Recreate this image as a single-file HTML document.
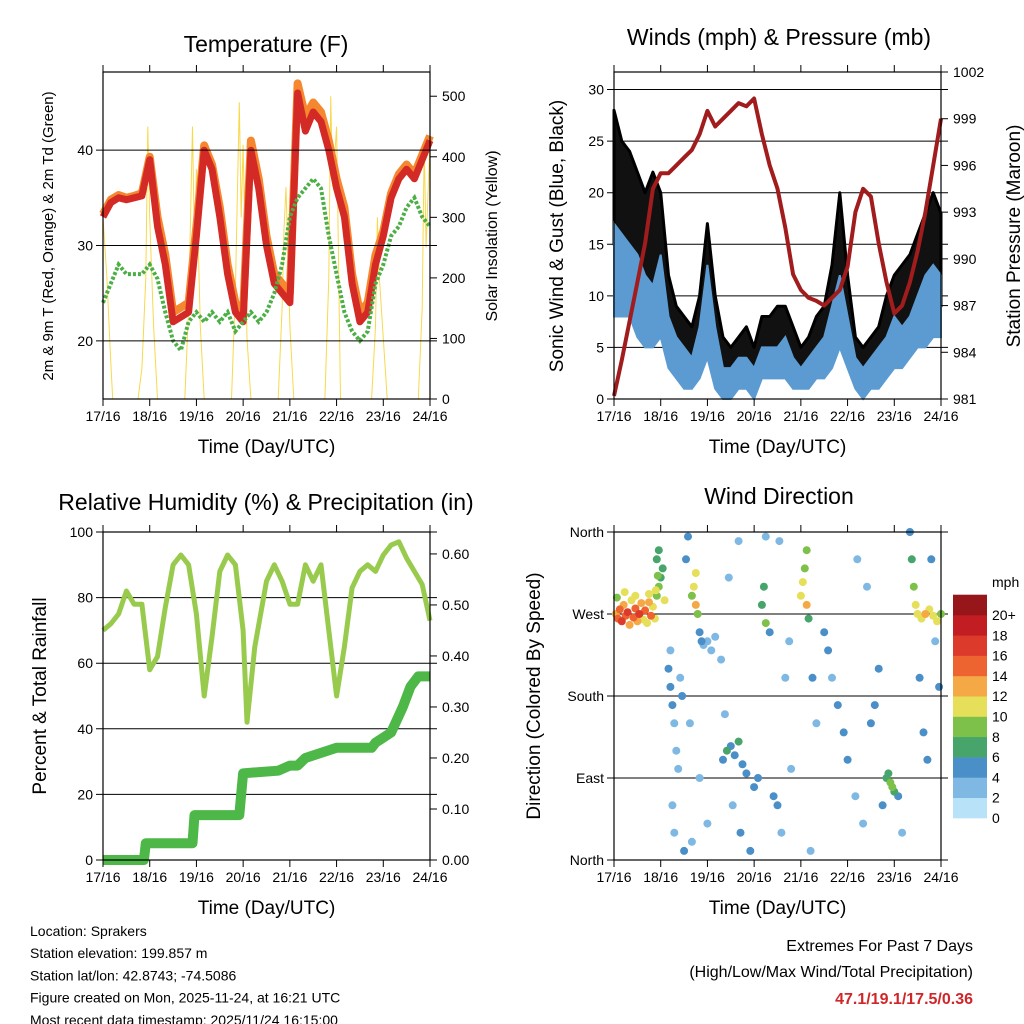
<!DOCTYPE html>
<html><head><meta charset="utf-8"><style>
body{margin:0;background:#fff;}
svg{display:block;font-family:"Liberation Sans",Arial,sans-serif;}
</style></head><body>
<svg id="s" width="1024" height="1024" viewBox="0 0 1024 1024"></svg>
<script>
const dayLabels=["17/16","18/16","19/16","20/16","21/16","22/16","23/16","24/16"];
// Temperature (F), every 4 hours, t=0..168
const hrs=[0,4,8,12,16,20,24,28,32,36,40,44,48,52,56,60,64,68,72,76,80,84,88,92,96,100,104,108,112,116,120,124,128,132,136,140,144,148,152,156,160,164,168];
const temp2m=[33,34.5,35,34.8,35,35.2,39,32,28,22,22.5,23,31,40,38,33,27,23,22,40,36,30,26,25,24,46,42,44,43,40,36,33,26,22,23,28,31,35,37,38,37,39,41];
const temp9m=[33.3,34.8,35.3,35,35.2,35.5,39.3,33,29,23,23.5,24,32,40.5,38.5,34,28,24,23,41,37,31,27,26,25,47,43.5,45,44,41,37,34,27,23,24,29,31.5,35.5,37.5,38.5,37.5,39.5,41.5];
const dewpt=[24,26,28,27,27,27,28,26.5,23,20,19,22,23,22,23,22,23,21,22,23,22,23,25,28,33,35,36,37,36,31,27,23,21,20,21,26,28,31,32,34,35,33,32];
const solarT=[0,2,4,5,18,20,22,23,24,26,28,42,44,46,47,48,50,52,66,68,70,71,72,74,76,90,92,93,94,96,98,114,116,117,118,120,122,138,140,141,142,144,146,162,164,165,166,168];
const solarV=[300,200,60,0,0,50,200,450,300,120,0,0,150,450,250,380,120,0,0,180,490,300,420,100,0,0,150,280,350,120,0,0,200,500,350,450,0,0,120,300,200,100,0,0,150,420,250,430];
// Winds
const windHi=[17,16,15,14,12,11,14,8,6,5,4,7,13,7,3,3,4,4,3,5,5,5,6,4,3,4,5,6,9,12,8,4,3,4,5,6,8,7,8,10,12,13,12];
const windLo=[8,8,8,6,5,5,6,3,2,1,1,2,4,1,0,0,1,1,0,2,2,2,2,1,1,1,2,2,3,5,3,1,0,1,1,2,3,3,4,5,5,6,6];
const gustHi=[28,25,24,22,20,22,20,12,9,8,7,10,17,10,6,5,6,7,5,8,8,9,9,7,5,6,8,9,13,20,12,6,5,6,7,10,12,13,14,16,18,20,18];
const gustLo=[15,14,12,12,10,10,12,7,4,3,2,4,8,3,1,1,2,2,1,3,3,3,3,2,2,2,3,3,5,8,5,2,1,2,2,3,5,6,6,7,8,9,9];
const pressure=[981.2,983.5,986,988.5,991,994.5,995.5,995.5,996,996.5,997,998,999.5,998.5,999,999.5,1000,999.8,1000.3,998,996,994.5,992,989,988,987.5,987.3,987,987.5,988,989.5,993,994.5,994,991,988.5,986.5,987,988.5,990.5,993,996,999];
// RH & precip
const rhT=[0,4,8,12,16,20,24,28,32,36,40,44,48,52,56,60,64,68,72,74,78,84,88,92,96,100,104,108,112,116,120,124,128,132,136,140,144,148,152,156,160,164,168];
const rhV=[70,72,75,82,78,78,58,62,77,90,93,90,75,50,68,88,93,90,70,42,65,85,90,85,78,78,90,85,90,70,50,65,83,88,90,88,93,96,97,92,88,84,73];
const prT=[0,21,22,46,47,70,72,90,96,100,104,112,120,138,140,148,154,158,162,168];
const prV=[0,0,0.033,0.033,0.088,0.088,0.17,0.175,0.185,0.185,0.2,0.21,0.22,0.22,0.23,0.25,0.3,0.34,0.36,0.36];
// Wind direction scatter
const wdT=[1,2,3,4,5,6,7,8,9,10,11,12,13,14,15,16,17,18,19,20,21,22,23,24,25,26,1.5,5.5,11,18,22,23,22.5,21.5,28,29,30,31,32,33,30,31,34,35,29,37,38,40,41,42,42,43,44,45,46,48,50,52,55,39,44,48,36,40,56,58,60,62,64,66,68,57,61,65,70,72,59,64,74,76,77,78,80,82,84,86,88,90,78,85,91,96,97,98,99,100,99,102,104,101,108,110,112,115,118,120,124,128,132,134,136,125,130,140,142,144,141,143,146,138,148,152,153,154,155,156,158,160,162,164,166,168,157,159,161,163,165,167];
const wdDir=[270,265,275,262,280,268,272,258,285,266,276,262,270,282,264,274,260,283,268,278,265,290,300,310,320,285,288,294,290,292,330,340,312,296,210,190,170,150,120,100,60,30,200,180,230,330,355,290,300,315,280,270,250,240,236,240,230,245,220,150,90,40,10,20,110,120,125,115,130,105,95,160,60,30,10,80,310,350,90,280,300,260,250,70,60,30,200,240,355,350,100,290,305,320,280,265,340,200,150,10,250,230,200,170,140,110,70,40,150,170,210,330,300,90,85,75,95,80,70,60,30,360,330,300,280,270,265,270,275,268,262,270,200,140,110,330,240,190];
const wdSpd=[12,14,13,15,11,13,16,12,10,14,13,11,15,12,9,13,10,11,14,10,9,8,7,6,5,10,8,9,10,9,6,5,8,9,3,4,3,2,1,2,1,1,2,3,2,4,3,8,10,9,11,7,4,3,2,1,2,1,2,1,2,1,3,2,4,5,4,3,5,4,3,2,2,3,4,3,2,2,3,6,5,7,4,3,4,2,2,2,2,1,2,10,9,8,11,6,7,3,2,1,3,4,2,3,4,3,2,1,3,4,3,2,2,6,7,6,5,7,4,3,2,3,5,8,9,10,9,11,10,10,9,8,3,4,4,3,2,3];
const cbLabels=["0","2","4","6","8","10","12","14","16","18","20+"];
const cbColors=["#b8e2f7","#7fb9e3","#4a8fc7","#47a56c","#7dc14a","#e6df5a","#f5a946","#ee6430","#dc3a2a","#c21d23","#96161a"];

const S=document.getElementById('s');const NS="http://www.w3.org/2000/svg";
function el(tag,attrs,parent,name,inter){const e=document.createElementNS(NS,tag);for(const k in attrs)e.setAttribute(k,attrs[k]);


(parent||S).appendChild(e);return e;}
function txt(x,y,s,size,name,extra){const t=el('text',Object.assign({x:x,y:y,'font-size':size,fill:'#000'},extra||{}),S,name,false);t.textContent=s;return t;}
function mkX(x0,x1){return t=>x0+(x1-x0)*t/168;}
function mkY(y0,y1,v0,v1){return v=>y1-(y1-y0)*(v-v0)/(v1-v0);}
function pathLine(X,Y,ts,vs){return ts.map((t,i)=>(i?'L':'M')+X(t).toFixed(1)+','+Y(vs[i]).toFixed(1)).join('');}
function band(X,Y,ts,hi,lo){let d=ts.map((t,i)=>(i?'L':'M')+X(t).toFixed(1)+','+Y(hi[i]).toFixed(1)).join('');for(let i=ts.length-1;i>=0;i--)d+='L'+X(ts[i]).toFixed(1)+','+Y(lo[i]).toFixed(1);return d+'Z';}
function frame(x0,x1,y0,y1,pfx){
 el('rect',{x:x0,y:y0,width:x1-x0,height:y1-y0,fill:'none',stroke:'#000','stroke-width':1.2},S,pfx+'-plot-frame',false);
 const X=mkX(x0,x1);
 dayLabels.forEach((d,i)=>{const x=X(i*24);
  el('line',{x1:x,y1:y1,x2:x,y2:y1+7,stroke:'#000'},S,pfx+'-x-tick',false);
  el('line',{x1:x,y1:y0,x2:x,y2:y0-7,stroke:'#000'},S,pfx+'-x-tick-top',false);
  txt(x,y1+22,d,14,pfx+'-x-tick-label',{'text-anchor':'middle'});});
 txt((x0+x1)/2,y1+54,'Time (Day/UTC)',19,pfx+'-x-axis-title',{'text-anchor':'middle'});
}
function leftTicks(x0,x1,Y,vals,labels,pfx,grid){vals.forEach((v,i)=>{const y=Y(v);
 if(grid)el('line',{x1:x0-7,y1:y,x2:x1+7,y2:y,stroke:'#000','stroke-width':1},S,pfx+'-gridline',false);
 else el('line',{x1:x0-7,y1:y,x2:x0,y2:y,stroke:'#000'},S,pfx+'-y-tick',false);
 txt(x0-10,y+5,labels[i],14,pfx+'-y-tick-label',{'text-anchor':'end'});});}
function rightTicks(x1,Y,vals,labels,pfx){vals.forEach((v,i)=>{const y=Y(v);
 el('line',{x1:x1,y1:y,x2:x1+7,y2:y,stroke:'#000'},S,pfx+'-y2-tick',false);
 txt(x1+12,y+5,labels[i],14,pfx+'-y2-tick-label');});}
function vtitle(x,y,s,size,name){txt(x,y,s,size,name,{'text-anchor':'middle',transform:`rotate(-90 ${x} ${y})`});}

// ---------- Panel 1 Temperature ----------
(function(){const x0=103,x1=430,y0=72,y1=399,X=mkX(x0,x1),Y=mkY(y0,y1,13.9,48.2),Ys=mkY(y0,y1,0,540);
 txt(266,52,'Temperature (F)',23,'temperature-title',{'text-anchor':'middle'});
 el('path',{d:pathLine(X,Ys,solarT,solarV),fill:'none',stroke:'#f7d94c','stroke-width':1},S,'solar-insolation-line',false);
 el('path',{d:pathLine(X,Y,hrs,temp9m),fill:'none',stroke:'#f5872e','stroke-width':8,'stroke-linejoin':'round'},S,'temp-9m-line',false);
 el('path',{d:pathLine(X,Y,hrs,temp2m),fill:'none',stroke:'#d42a26','stroke-width':7,'stroke-linejoin':'round'},S,'temp-2m-line',false);
 el('path',{d:pathLine(X,Y,hrs,dewpt),fill:'none',stroke:'#4caf45','stroke-width':4,'stroke-dasharray':'3 2'},S,'dewpoint-line',false);
 leftTicks(x0,x1,Y,[20,30,40],['20','30','40'],'temp',true);
 rightTicks(x1,Ys,[0,100,200,300,400,500],['0','100','200','300','400','500'],'temp');
 frame(x0,x1,y0,y1,'temp');
 vtitle(53,236,'2m & 9m T (Red, Orange) & 2m Td (Green)',15,'temp-y-axis-title');
 vtitle(497,236,'Solar Insolation (Yellow)',16,'solar-y-axis-title');
})();
// ---------- Panel 2 Winds ----------
(function(){const x0=614,x1=941,y0=72,y1=399,X=mkX(x0,x1),Y=mkY(y0,y1,0,31.7),Yp=mkY(y0,y1,981,1002);
 txt(779,45,'Winds (mph) & Pressure (mb)',23,'winds-title',{'text-anchor':'middle'});
 leftTicks(x0,x1,Y,[0,5,10,15,20,25,30],['0','5','10','15','20','25','30'],'wind',true);
 el('path',{d:band(X,Y,hrs,gustHi,gustLo),fill:'#111',stroke:'#000','stroke-width':3,'stroke-linejoin':'round'},S,'gust-points',false);
 el('path',{d:band(X,Y,hrs,windHi,windLo),fill:'#5b9bd2',stroke:'#5b9bd2','stroke-width':2},S,'wind-speed-band',false);
 el('path',{d:pathLine(X,Yp,hrs,pressure),fill:'none',stroke:'#a11d1d','stroke-width':4,'stroke-linejoin':'round'},S,'pressure-line',false);
 rightTicks(x1,Yp,[981,984,987,990,993,996,999,1002],['981','984','987','990','993','996','999','1002'],'wind');
 frame(x0,x1,y0,y1,'wind');
 vtitle(563,236,'Sonic Wind & Gust (Blue, Black)',19,'wind-y-axis-title');
 vtitle(1020,236,'Station Pressure (Maroon)',19,'pressure-y-axis-title');
})();
// ---------- Panel 3 RH ----------
(function(){const x0=103,x1=430,y0=532,y1=860,X=mkX(x0,x1),Y=mkY(y0,y1,0,100),Yr=mkY(y0,y1,0,0.643);
 txt(266,510,'Relative Humidity (%) & Precipitation (in)',23,'rh-title',{'text-anchor':'middle'});
 leftTicks(x0,x1,Y,[0,20,40,60,80,100],['0','20','40','60','80','100'],'rh',true);
 el('path',{d:pathLine(X,Y,rhT,rhV),fill:'none',stroke:'#98cb4d','stroke-width':5,'stroke-linejoin':'round'},S,'rh-line',false);
 el('path',{d:pathLine(X,Yr,prT,prV),fill:'none',stroke:'#4db748','stroke-width':10,'stroke-linejoin':'round'},S,'precip-line',false);
 rightTicks(x1,Yr,[0,0.1,0.2,0.3,0.4,0.5,0.6],['0.00','0.10','0.20','0.30','0.40','0.50','0.60'],'rh');
 frame(x0,x1,y0,y1,'rh');
 vtitle(46,696,'Percent & Total Rainfall',19,'rh-y-axis-title');
})();
// ---------- Panel 4 Wind direction ----------
(function(){const x0=614,x1=941,y0=532,y1=860,X=mkX(x0,x1),Y=mkY(y0,y1,0,360);
 txt(779,504,'Wind Direction',23,'wind-direction-title',{'text-anchor':'middle'});
 leftTicks(x0,x1,Y,[0,90,180,270,360],['North','East','South','West','North'],'wdir',true);
 const ci=s=>Math.min(10,Math.max(0,Math.round(s/2)));
 const order=wdT.map((t,i)=>i).sort((a,b)=>wdSpd[a]-wdSpd[b]);
 order.forEach(i=>{el('circle',{cx:X(wdT[i]).toFixed(1),cy:Y(wdDir[i]).toFixed(1),r:4,fill:cbColors[ci(wdSpd[i])]},S,'wind-direction-point',false);});
 frame(x0,x1,y0,y1,'wdir');
 vtitle(540,696,'Direction (Colored By Speed)',19,'wdir-y-axis-title');
 txt(992,587,'mph',14,'colorbar-unit-label');
 const h=20.3;cbColors.forEach((c,i)=>{const y=818-(i+1)*h;
  el('rect',{x:953,y:y.toFixed(1),width:34,height:h+0.3,fill:c},S,'colorbar-box',false);
  txt(992,y+h+5,cbLabels[i],14,'colorbar-label');});
})();
// ---------- Footer ----------
['Location: Sprakers','Station elevation: 199.857 m','Station lat/lon: 42.8743; -74.5086','Figure created on Mon, 2025-11-24, at 16:21 UTC','Most recent data timestamp: 2025/11/24 16:15:00'].forEach((s,i)=>txt(30,936+i*22.2,s,14,'footer-info-line'));
txt(973,951,'Extremes For Past 7 Days',16,'extremes-title',{'text-anchor':'end'});
txt(973,977,'(High/Low/Max Wind/Total Precipitation)',16,'extremes-subtitle',{'text-anchor':'end'});
txt(973,1004,'47.1/19.1/17.5/0.36',16,'extremes-values',{'text-anchor':'end','font-weight':'bold',fill:'#d0262a'});
</script>
</body></html>
